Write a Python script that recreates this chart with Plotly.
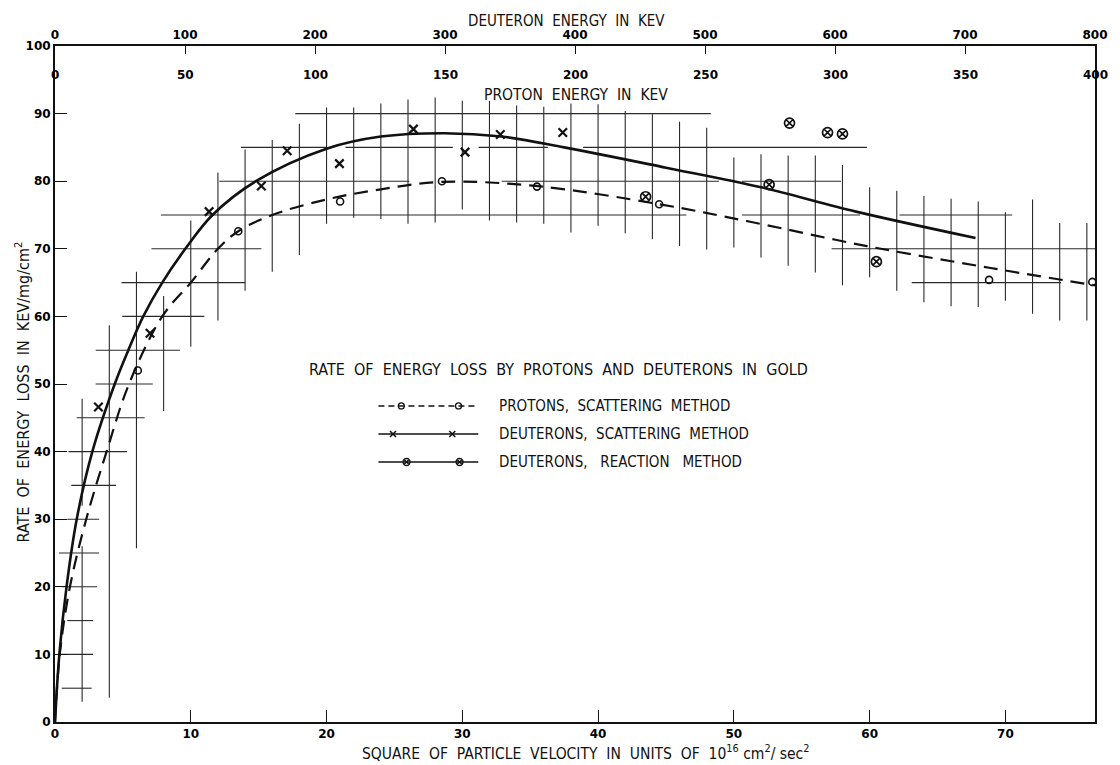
import plotly.graph_objects as go

# ---------------- data ----------------
# x: square of particle velocity (10^16 cm^2/sec^2), y: rate of energy loss (keV per mg/cm^2)
PROTON_V2 = [6.1, 13.5, 21.0, 28.5, 35.5, 44.5, 68.8, 76.4]
PROTON_RATE = [52.0, 72.6, 77.0, 80.0, 79.2, 76.6, 65.4, 65.1]

DEUT_SCAT_V2 = [3.2, 7.0, 11.35, 15.2, 17.1, 20.95, 26.4, 30.2, 32.8, 37.4]
DEUT_SCAT_RATE = [46.6, 57.5, 75.5, 79.3, 84.5, 82.6, 87.7, 84.3, 86.9, 87.2]

DEUT_REACT_V2 = [43.5, 52.6, 54.1, 56.9, 58.0, 60.5]
DEUT_REACT_RATE = [77.7, 79.5, 88.6, 87.2, 87.0, 68.1]

# smooth curves drawn through the data
PROTON_CURVE_V2 = [0, 0.35, 1.1, 2.3, 3.8, 5.45, 7.9, 10.0, 12.0, 13.5, 16.0, 20.0,
                   24.0, 28.5, 35.4, 44.5, 51.2, 59.8, 68.8, 76.6]
PROTON_CURVE_RATE = [0, 10, 20, 30, 40, 50, 60, 65, 70, 72.6, 75, 77.3,
                     78.8, 79.9, 79.3, 76.6, 74.0, 70.4, 67.2, 64.6]

DEUT_CURVE_V2 = [0, 0.32, 0.85, 1.6, 2.75, 4.4, 5.4, 6.5, 7.9, 9.6, 11.6, 14.8, 20.0,
                 24.0, 28.7, 32.9, 37.5, 45.0, 52.0, 59.0, 67.8]
DEUT_CURVE_RATE = [0, 10, 20, 30, 40, 50, 55, 60, 65, 70, 75, 80, 84.8,
                   86.6, 87.1, 86.6, 85.0, 82.0, 79.1, 75.5, 71.6]

# fragments of the graph-paper lines that remain visible around the data
V_SEG_X = [2, 2, 4, 6, 8, 10, 12, 14, 16, 18, 20, 22, 24, 26, 28, 30, 32, 34, 36, 38,
           40, 42, 44, 46, 48, 50, 52, 54, 56, 58, 60, 62, 64, 66, 68, 70, 72, 74, 76]
V_SEG_Y0 = [3.0, 32.0, 3.6, 25.7, 46.0, 55.5, 59.4, 63.8, 66.6, 69.1, 73.7, 74.6, 74.4, 73.7,
            73.9, 75.8, 74.2, 73.9, 73.7, 72.4, 73.4, 72.3, 71.4, 70.4, 69.9, 70.2, 68.7,
            67.5, 66.5, 64.6, 65.8, 63.8, 62.1, 61.5, 61.4, 62.3, 60.4, 59.4, 59.4]
V_SEG_Y1 = [26.0, 47.8, 58.7, 66.6, 63.0, 74.2, 81.3, 84.7, 86.1, 88.5, 90.9, 90.9, 91.5, 92.1,
            92.4, 91.9, 91.9, 91.2, 91.0, 91.5, 91.4, 90.4, 89.9, 88.8, 87.9, 83.5, 84.0,
            83.8, 83.8, 82.4, 79.1, 78.6, 77.8, 77.4, 77.0, 75.4, 77.3, 73.8, 73.8]

H_SEG_Y = [5, 10, 15, 20, 25, 30, 35, 40, 45, 50, 55, 60, 65, 70, 75,
           80, 80, 80, 85, 85, 85, 85, 90, 70, 75, 75, 65]
H_SEG_X0 = [0.5, 0.4, 0.9, 0.5, 0.3, 0.9, 1.2, 1.0, 1.6, 3.0, 3.0, 4.95, 4.9, 7.1, 7.8,
            12.1, 32.9, 50.6, 13.7, 21.4, 31.2, 38.9, 17.7, 57.2, 50.6, 62.2, 63.1]
H_SEG_X1 = [2.7, 2.8, 2.8, 3.1, 3.25, 3.25, 4.5, 5.3, 6.6, 7.2, 9.2, 11.0, 14.0, 15.2, 46.5,
            26.1, 48.9, 57.9, 20.0, 29.3, 36.3, 59.8, 48.3, 76.6, 59.3, 70.5, 74.1]

# axes
X_TICKS = [0, 10, 20, 30, 40, 50, 60, 70]
Y_TICKS = [0, 10, 20, 30, 40, 50, 60, 70, 80, 90, 100]
DEUTERON_KEV = [0, 100, 200, 300, 400, 500, 600, 700, 800]
PROTON_KEV = [0, 50, 100, 150, 200, 250, 300, 350, 400]
V2_AT_400_KEV_PROTON = 76.6     # right edge of the chart = 400 keV protons
X_MAX = 76.6

# ---------------- figure ----------------
FONT = "DejaVu Sans Condensed, DejaVu Sans, sans-serif"
NUMFONT = dict(family="DejaVu Sans, sans-serif", size=12, color="black", weight="bold")
INK = "#111111"

fig = go.Figure()

# graph-paper fragments
gx, gy = [], []
for x, y0, y1 in zip(V_SEG_X, V_SEG_Y0, V_SEG_Y1):
    gx += [x, x, None]
    gy += [y0, y1, None]
for y, x0, x1 in zip(H_SEG_Y, H_SEG_X0, H_SEG_X1):
    gx += [x0, x1, None]
    gy += [y, y, None]
fig.add_trace(go.Scatter(x=gx, y=gy, mode="lines", line=dict(color="#2a2a2a", width=1.1),
                         hoverinfo="skip", showlegend=False))

# curves
fig.add_trace(go.Scatter(x=PROTON_CURVE_V2, y=PROTON_CURVE_RATE, mode="lines",
                         line=dict(color=INK, width=2.2, dash="14px,8px", shape="spline", smoothing=1.0),
                         showlegend=False))
fig.add_trace(go.Scatter(x=DEUT_CURVE_V2, y=DEUT_CURVE_RATE, mode="lines",
                         line=dict(color=INK, width=2.6, shape="spline", smoothing=1.0),
                         showlegend=False))

# points
fig.add_trace(go.Scatter(x=PROTON_V2, y=PROTON_RATE, mode="markers",
                         marker=dict(symbol="circle-open", size=7, color=INK, line=dict(width=1.6)),
                         showlegend=False))
fig.add_trace(go.Scatter(x=DEUT_SCAT_V2, y=DEUT_SCAT_RATE, mode="markers",
                         marker=dict(symbol="x-thin-open", size=8.5, color=INK, line=dict(width=2.2)),
                         showlegend=False))
fig.add_trace(go.Scatter(x=DEUT_REACT_V2, y=DEUT_REACT_RATE, mode="markers",
                         marker=dict(symbol="circle-x-open", size=10, color=INK, line=dict(width=1.7)),
                         showlegend=False))

# ---------------- legend drawn on an overlay axis in paper units ----------------
LEG_LABELS = ["PROTONS,  SCATTERING  METHOD", "DEUTERONS,  SCATTERING  METHOD",
              "DEUTERONS,   REACTION   METHOD"]
LEG_ROWS = [0.4675, 0.426, 0.3846]
LEG_X0, LEG_X1 = 0.311, 0.407
LEG_MK = [[0.333, 0.388], [0.325, 0.382], [0.338, 0.389]]
LEG_TEXT_X = 0.425
leg_styles = [
    (dict(color=INK, width=1.6, dash="6px,4px"), dict(symbol="circle-open", size=6, color=INK, line=dict(width=1.3))),
    (dict(color=INK, width=1.6), dict(symbol="x-thin-open", size=6, color=INK, line=dict(width=1.5))),
    (dict(color=INK, width=1.6), dict(symbol="circle-x-open", size=7, color=INK, line=dict(width=1.3))),
]
for row, mk, (ln, mkst) in zip(LEG_ROWS, LEG_MK, leg_styles):
    fig.add_trace(go.Scatter(x=[LEG_X0, LEG_X1], y=[row, row], mode="lines", line=ln,
                             xaxis="x4", yaxis="y4", showlegend=False, hoverinfo="skip"))
    fig.add_trace(go.Scatter(x=mk, y=[row, row], mode="markers", marker=mkst,
                             xaxis="x4", yaxis="y4", showlegend=False, hoverinfo="skip"))

annotations = []
for row, lab in zip(LEG_ROWS, LEG_LABELS):
    annotations.append(dict(x=LEG_TEXT_X, y=row, xref="paper", yref="paper", text=lab,
                            showarrow=False, xanchor="left", yanchor="middle",
                            font=dict(family=FONT, size=15, color=INK)))

annotations.append(dict(x=0.4845, y=0.521, xref="paper", yref="paper",
                        text="RATE  OF  ENERGY  LOSS  BY  PROTONS  AND  DEUTERONS  IN  GOLD",
                        showarrow=False, xanchor="center", yanchor="middle",
                        font=dict(family=FONT, size=16, color=INK)))

# top axis titles
annotations.append(dict(x=0.492, y=1.037, xref="paper", yref="paper", text="DEUTERON  ENERGY  IN  KEV",
                        showarrow=False, xanchor="center", yanchor="middle",
                        font=dict(family=FONT, size=15, color=INK)))
annotations.append(dict(x=0.501, y=0.9275, xref="paper", yref="paper", text="PROTON  ENERGY  IN  KEV",
                        showarrow=False, xanchor="center", yanchor="middle",
                        font=dict(family=FONT, size=15.5, color=INK)))

# proton energy tick labels (inside, under the top axis line)
for e in PROTON_KEV:
    annotations.append(dict(x=e * V2_AT_400_KEV_PROTON / 400, y=0.957, xref="x", yref="paper",
                            text=str(e), showarrow=False, xanchor="center", yanchor="middle",
                            font=NUMFONT))

# bottom axis title
annotations.append(dict(x=0.511, y=-0.0444, xref="paper", yref="paper",
                        text="SQUARE  OF  PARTICLE  VELOCITY  IN  UNITS  OF  10<sup>16</sup> cm<sup>2</sup>/ sec<sup>2</sup>",
                        showarrow=False, xanchor="center", yanchor="middle",
                        font=dict(family=FONT, size=15.5, color=INK)))
# y axis title
annotations.append(dict(x=-0.0314, y=0.488, xref="paper", yref="paper",
                        text="RATE  OF  ENERGY  LOSS  IN  KEV/mg/cm<sup>2</sup>", textangle=-90,
                        showarrow=False, xanchor="center", yanchor="middle",
                        font=dict(family=FONT, size=16, color=INK)))

deut_pos = [e / 2 * V2_AT_400_KEV_PROTON / 400 for e in DEUTERON_KEV]

fig.update_layout(
    width=1120, height=765,
    margin=dict(l=55, r=14, t=46, b=43),
    paper_bgcolor="white", plot_bgcolor="white",
    showlegend=False,
    xaxis=dict(range=[0, X_MAX], tickvals=X_TICKS, ticks="inside", ticklen=12, tickwidth=1.3,
               tickcolor=INK, showline=True, linecolor=INK, linewidth=2, showgrid=False,
               zeroline=False, tickfont=NUMFONT),
    yaxis=dict(range=[0, 100], tickvals=Y_TICKS, ticks="inside", ticklen=12, tickwidth=1.3,
               tickcolor=INK, showline=True, linecolor=INK, linewidth=2, mirror=True,
               showgrid=False, zeroline=False, tickfont=NUMFONT),
    xaxis2=dict(range=[0, X_MAX], overlaying="x", side="top", tickvals=deut_pos,
                ticktext=[str(e) for e in DEUTERON_KEV], ticks="inside", ticklen=8, tickwidth=1.3,
                tickcolor=INK, showline=True, linecolor=INK, linewidth=2, showgrid=False,
                zeroline=False, tickfont=NUMFONT),
    xaxis4=dict(range=[0, 1], domain=[0, 1], overlaying="x", visible=False),
    yaxis4=dict(range=[0, 1], domain=[0, 1], overlaying="y", visible=False),
    annotations=annotations,
)
# dummy trace so xaxis2 renders
fig.add_trace(go.Scatter(x=[None], y=[None], xaxis="x2", showlegend=False))

fig.write_html("out.html")
